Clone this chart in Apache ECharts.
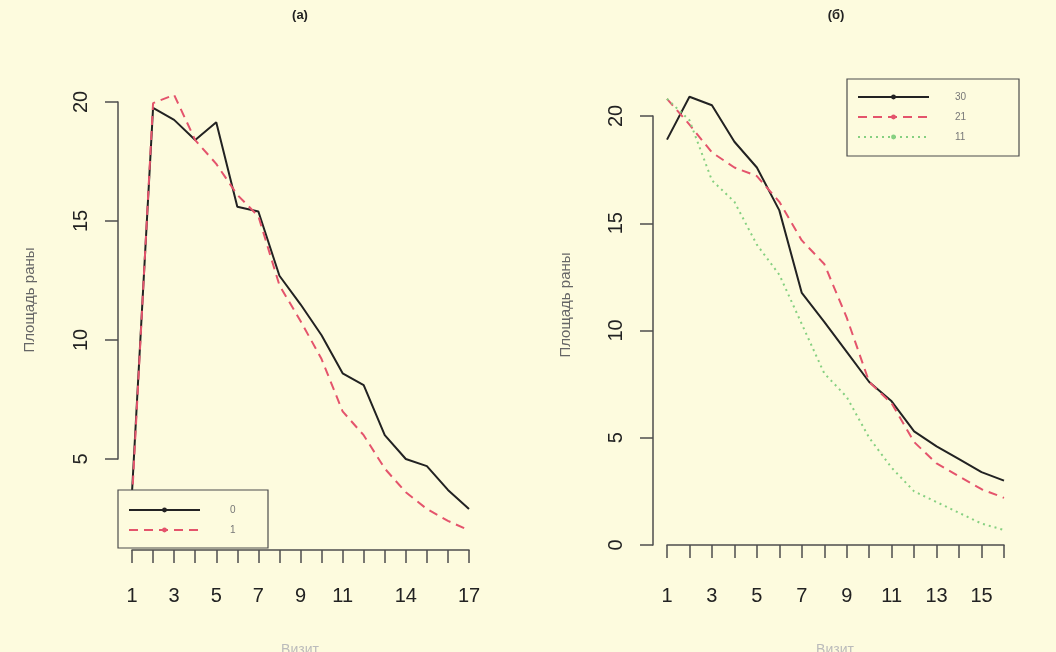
<!DOCTYPE html>
<html><head><meta charset="utf-8">
<script src="https://cdn.jsdelivr.net/npm/echarts@6/dist/echarts.min.js"></script>
<style>html,body{margin:0;padding:0;background:#fdfbde}#c{width:1056px;height:652px}</style>
</head><body><div id="c"></div>
<script>
// Panel (а)
const leftVisits = [1,2,3,4,5,6,7,8,9,10,11,12,13,14,15,16,17];
const leftGroup0 = [3.6,19.75,19.25,18.4,19.15,15.6,15.4,12.7,11.5,10.2,8.6,8.1,6.0,5.0,4.7,3.7,2.9];
const leftGroup1 = [3.3,19.95,20.3,18.4,17.4,16.1,15.2,12.3,10.8,9.2,7.0,6.0,4.6,3.6,2.9,2.4,2.0];
const leftXTickLabels = [1,3,5,7,9,11,14,17];
const leftYTicks = [5,10,15,20];
// Panel (б)
const rightVisits = [1,2,3,4,5,6,7,8,9,10,11,12,13,14,15,16];
const right30 = [18.9,20.9,20.5,18.8,17.6,15.6,11.75,10.4,9.0,7.6,6.7,5.3,4.6,4.0,3.4,3.0];
const right21 = [20.8,19.6,18.3,17.6,17.2,16.0,14.2,13.1,10.6,7.6,6.6,4.8,3.8,3.2,2.6,2.2];
const right11 = [20.8,19.8,17.0,16.0,14.0,12.6,10.3,8.0,6.9,5.0,3.6,2.5,2.0,1.5,1.0,0.7];
const rightXTickLabels = [1,3,5,7,9,11,13,15];
const rightYTicks = [0,5,10,15,20];

const seriesNames = {l0:'0', l1:'1', r30:'30', r21:'21', r11:'11'};
const yTitle = 'Площадь раны';
const xTitle = 'Визит';

const BG = '#fdfbde', AX = '#4d4d4d', BLK = '#222222', RED = '#e4546c', GRN = '#86d081';
const pairs = (xs, ys) => xs.map((x, i) => [x, ys[i]]);

const chart = echarts.init(document.getElementById('c'), null, {renderer:'canvas'});

function xAxisFor(gridIndex, xs, shown, offset){
  return {type:'value', gridIndex, min:xs[0], max:xs[xs.length-1], interval:1, offset,
    axisLine:{show:true, lineStyle:{color:AX, width:1.5}},
    axisTick:{show:true, inside:false, length:13, lineStyle:{color:AX, width:1.5}},
    axisLabel:{margin:36, fontSize:20, color:'#222', fontFamily:'Liberation Sans',
      formatter:v => shown.includes(v) ? String(v) : ''},
    splitLine:{show:false}};
}
function yAxisFor(gridIndex, ticks, offset){
  return {type:'value', gridIndex, min:ticks[0], max:ticks[ticks.length-1], interval:5, offset,
    axisLine:{show:true, lineStyle:{color:AX, width:1.5}},
    axisTick:{show:true, length:13, lineStyle:{color:AX, width:1.5}},
    axisLabel:{margin:27, fontSize:20, color:'#222', rotate:90, fontFamily:'Liberation Sans'},
    splitLine:{show:false}};
}
function lineSeries(name, xi, yi, data, color, type, width){
  return {type:'line', name, xAxisIndex:xi, yAxisIndex:yi, data, clip:false,
    symbol:'circle', symbolSize:6, showSymbol:false, animation:false,
    lineStyle:{color, width, type}, itemStyle:{color}};
}
function legendFor(names, left, top, pad, textW, textPad){
  return {orient:'vertical', left, top, data:names, itemWidth:71, itemHeight:6, itemGap:6,
    padding:pad, borderColor:AX, borderWidth:1.2, backgroundColor:BG, borderRadius:0,
    selectedMode:false,
    textStyle:{fontSize:10, color:'#777', width:textW, padding:[0,0,0,textPad], fontFamily:'Liberation Sans', lineHeight:14}};
}

chart.setOption({
  backgroundColor: BG,
  animation:false,
  grid:[
    {left:132, right:1056-469, top:102, bottom:652-459},
    {left:667, right:1056-1004, top:116, bottom:652-545}
  ],
  xAxis:[ xAxisFor(0, leftVisits, leftXTickLabels, 91), xAxisFor(1, rightVisits, rightXTickLabels, 5) ],
  yAxis:[ yAxisFor(0, leftYTicks, 14), yAxisFor(1, rightYTicks, 14) ],
  legend:[
    legendFor([seriesNames.l0, seriesNames.l1], 118, 490, [13,10,11,10], 28, 25),
    legendFor([seriesNames.r30, seriesNames.r21, seriesNames.r11], 847, 79, [11,10,12,10], 54, 21)
  ],
  series:[
    lineSeries(seriesNames.l0, 0, 0, pairs(leftVisits, leftGroup0), BLK, 'solid', 2),
    lineSeries(seriesNames.l1, 0, 0, pairs(leftVisits, leftGroup1), RED, [9,6], 2),
    lineSeries(seriesNames.r30, 1, 1, pairs(rightVisits, right30), BLK, 'solid', 2),
    lineSeries(seriesNames.r21, 1, 1, pairs(rightVisits, right21), RED, [9,6], 2),
    lineSeries(seriesNames.r11, 1, 1, pairs(rightVisits, right11), GRN, [2,4], 2)
  ],
  graphic:[
    {type:'text', x:300, y:15, style:{text:'(а)', font:'bold 13px Liberation Sans', fill:'#222', align:'center', verticalAlign:'middle'}},
    {type:'text', x:836, y:15, style:{text:'(б)', font:'bold 13px Liberation Sans', fill:'#222', align:'center', verticalAlign:'middle'}},
    {type:'text', x:30, y:300, rotation:Math.PI/2, style:{text:yTitle, font:'15px Liberation Sans', fill:'#666', align:'center', verticalAlign:'middle'}},
    {type:'text', x:566, y:305, rotation:Math.PI/2, style:{text:yTitle, font:'15px Liberation Sans', fill:'#666', align:'center', verticalAlign:'middle'}},
    {type:'text', x:300, y:650, style:{text:xTitle, font:'14px Liberation Sans', fill:'#bbb', align:'center', verticalAlign:'middle'}},
    {type:'text', x:835, y:650, style:{text:xTitle, font:'14px Liberation Sans', fill:'#bbb', align:'center', verticalAlign:'middle'}}
  ]
});
</script></body></html>
